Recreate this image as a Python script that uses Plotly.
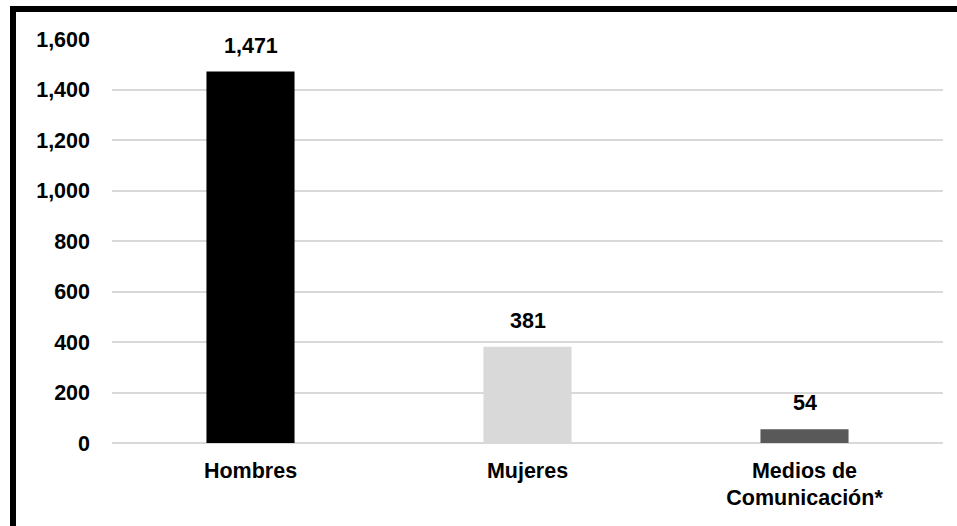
import plotly.graph_objects as go

categories = ["Hombres", "Mujeres", "Medios de<br>Comunicación*"]
values = [1471, 381, 54]
bar_colors = ["#000000", "#d9d9d9", "#595959"]
tick_vals = [0, 200, 400, 600, 800, 1000, 1200, 1400, 1600]
tick_text = ["0", "200", "400", "600", "800", "1,000", "1,200", "1,400", "1,600"]
value_labels = ["1,471", "381", "54"]

FONT = "Liberation Sans, Arial, sans-serif"
FS = 21.5

fig = go.Figure(go.Bar(
    x=categories, y=values,
    marker=dict(color=bar_colors, line=dict(width=0)),
    width=0.318, hoverinfo="skip",
))

for c, v, t in zip(categories, values, value_labels):
    fig.add_annotation(x=c, y=v, text=t, showarrow=False, yanchor="bottom",
                       yshift=12, font=dict(family=FONT, size=FS, color="#000000", weight="bold"))

fig.update_layout(
    width=957, height=526,
    margin=dict(l=112, r=14, t=39, b=83),
    paper_bgcolor="white", plot_bgcolor="white",
    font=dict(family=FONT, size=FS, color="#000000", weight="bold"),
    showlegend=False,
    xaxis=dict(showgrid=False, showline=False, ticks="", ticklabelstandoff=12,
               tickfont=dict(family=FONT, size=FS, color="#000000", weight="bold")),
    yaxis=dict(range=[0, 1600], tickvals=tick_vals, ticktext=tick_text,
               showgrid=True, gridcolor="#d9d9d9", gridwidth=1.5,
               zeroline=True, zerolinecolor="#d9d9d9", zerolinewidth=1.5,
               showline=False, ticks="", ticklabelstandoff=21,
               tickfont=dict(family=FONT, size=FS, color="#000000", weight="bold")),
    shapes=[dict(type="rect", xref="paper", yref="paper",
                 x0=(13 - 112) / 831, x1=1.2, y0=-0.4, y1=(443 - 9) / 404,
                 line=dict(color="black", width=6), fillcolor="rgba(0,0,0,0)")],
)

fig.write_html("out.html", config={"displayModeBar": False},
               post_script="document.body.style.margin='0';")
